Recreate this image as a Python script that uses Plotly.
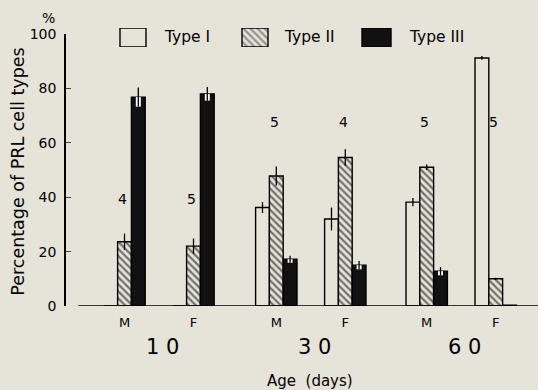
import plotly.graph_objects as go

# ---------------- data ----------------
ages = ["1 0", "3 0", "6 0"]
sexes = ["M", "F", "M", "F", "M", "F"]
type1 = [0.0, 0.0, 36.2, 32.0, 38.2, 91.2]
type1_err = [0.0, 0.0, 2.0, 4.2, 1.5, 0.7]
type2 = [23.6, 22.0, 47.8, 54.6, 51.0, 10.0]
type2_err = [3.0, 2.8, 3.5, 3.0, 1.0, 0.4]
type3 = [76.8, 78.0, 17.2, 15.0, 12.8, 0.3]
type3_err = [3.5, 2.5, 1.3, 1.5, 1.5, 0.0]
n_counts = ["4", "5", "5", "4", "5", "5"]
legend_labels = ["Type I", "Type II", "Type III"]
y_ticks = [0, 20, 40, 60, 80, 100]

# ---------------- layout helpers (positions / styles) ----------------
pos = [0.0, 1.0, 2.2, 3.2, 4.38, 5.38]
age_centers = [0.55, 2.75, 4.93]
n_label_y = [39.5, 39.5, 67.5, 67.5, 67.5, 67.5]
BG = "#e6e3d9"
FONT = "DejaVu Sans"
LW = 1.4

fig = go.Figure()

fig.add_trace(go.Bar(
    x=pos, y=type1, name=legend_labels[0], offsetgroup="1",
    marker=dict(color=BG, line=dict(color="black", width=LW)),
    error_y=dict(type="data", array=type1_err, color="black", thickness=1.3, width=0),
    showlegend=False))
fig.add_trace(go.Bar(
    x=pos, y=type2, name=legend_labels[1], offsetgroup="2",
    marker=dict(color=BG, line=dict(color="black", width=LW),
                pattern=dict(shape="\\", fgcolor="black", bgcolor=BG, size=5, solidity=0.45)),
    error_y=dict(type="data", array=type2_err, color="black", thickness=1.3, width=0),
    showlegend=False))
fig.add_trace(go.Bar(
    x=pos, y=type3, name=legend_labels[2], offsetgroup="3",
    marker=dict(color="#111111", line=dict(color="black", width=LW)),
    showlegend=False))
# white inner part of the Type III error bars
fig.add_trace(go.Bar(
    x=pos, y=type3, offsetgroup="3", hoverinfo="skip",
    marker=dict(color="rgba(0,0,0,0)", line=dict(width=0)),
    error_y=dict(type="data", symmetric=False, array=[0] * 6, arrayminus=type3_err,
                 color="white", thickness=5, width=0),
    showlegend=False))
fig.add_trace(go.Bar(
    x=pos, y=type3, offsetgroup="3", hoverinfo="skip",
    marker=dict(color="rgba(0,0,0,0)", line=dict(width=0)),
    error_y=dict(type="data", array=type3_err, color="black", thickness=1.3, width=0),
    showlegend=False))

# legend swatches drawn as bars on a separate small axis
fig.add_trace(go.Bar(
    x=[133, 255, 376.5], y=[1, 1, 1], width=[26, 26, 29], xaxis="x2", yaxis="y2",
    hoverinfo="skip", showlegend=False,
    marker=dict(color=[BG, BG, "#111111"], line=dict(color="black", width=LW),
                pattern=dict(shape=["", "\\", ""], fgcolor="black", bgcolor=BG,
                             size=5, solidity=0.45))))

annotations = []
for lab, x in zip(legend_labels, [162, 282, 407]):
    annotations.append(dict(text=lab, x=x, y=0.5, xref="x2", yref="y2",
                            xanchor="left", yanchor="middle", showarrow=False,
                            font=dict(family=FONT, size=15.5, color="black")))
for n, x, y in zip(n_counts, pos, n_label_y):
    annotations.append(dict(text=n, x=x - 0.03, y=y, xref="x", yref="y",
                            showarrow=False, font=dict(family=FONT, size=14, color="black")))
for a, x in zip(ages, age_centers):
    annotations.append(dict(text=a, x=x, y=0, xref="x", yref="paper", yanchor="middle",
                            yshift=-41, showarrow=False,
                            font=dict(family=FONT, size=21, color="black")))
annotations.append(dict(text="Age\u00a0 (days)", x=0.517, y=0, xref="paper", yref="paper",
                        yanchor="middle", yshift=-75, showarrow=False,
                        font=dict(family=FONT, size=15, color="black")))
annotations.append(dict(text="Percentage of PRL cell types", x=0, y=0.483, xref="paper",
                        yref="paper", xshift=-48, textangle=-90, showarrow=False,
                        xanchor="center", yanchor="middle",
                        font=dict(family=FONT, size=17.5, color="black")))
annotations.append(dict(text="%", x=0, y=0.9784, xref="paper", yref="paper", xshift=-18,
                        yshift=16, showarrow=False, xanchor="center", yanchor="middle",
                        font=dict(family=FONT, size=14, color="black")))

fig.update_layout(
    width=538, height=390,
    margin=dict(l=66, r=0, t=28, b=84),
    paper_bgcolor=BG, plot_bgcolor=BG,
    barmode="group", bargap=0.4, bargroupgap=0,
    font=dict(family=FONT, color="black"),
    annotations=annotations,
    xaxis=dict(range=[-0.848, 5.993], tickvals=pos, ticktext=sexes, ticks="",
               showline=False, showgrid=False, zeroline=False, ticklabelstandoff=7,
               tickfont=dict(family=FONT, size=13, color="black"), anchor="y"),
    yaxis=dict(range=[0, 100], domain=[0, 0.9784], tickvals=y_ticks, ticks="inside",
               ticklen=5, tickwidth=1.3, showline=True, linecolor="black", linewidth=1.5,
               showgrid=False, zeroline=False, anchor="x", ticklabelstandoff=5,
               tickfont=dict(family=FONT, size=14, color="black")),
    xaxis2=dict(domain=[0, 1], range=[66, 538], anchor="y2", visible=False),
    yaxis2=dict(domain=[0.9317, 1], range=[0, 1], anchor="x2", visible=False),
    shapes=[dict(type="line", xref="x", yref="y", x0=-0.67, x1=5.993, y0=0, y1=0,
                 line=dict(color="black", width=1.5))],
)

fig.write_html("out.html")
